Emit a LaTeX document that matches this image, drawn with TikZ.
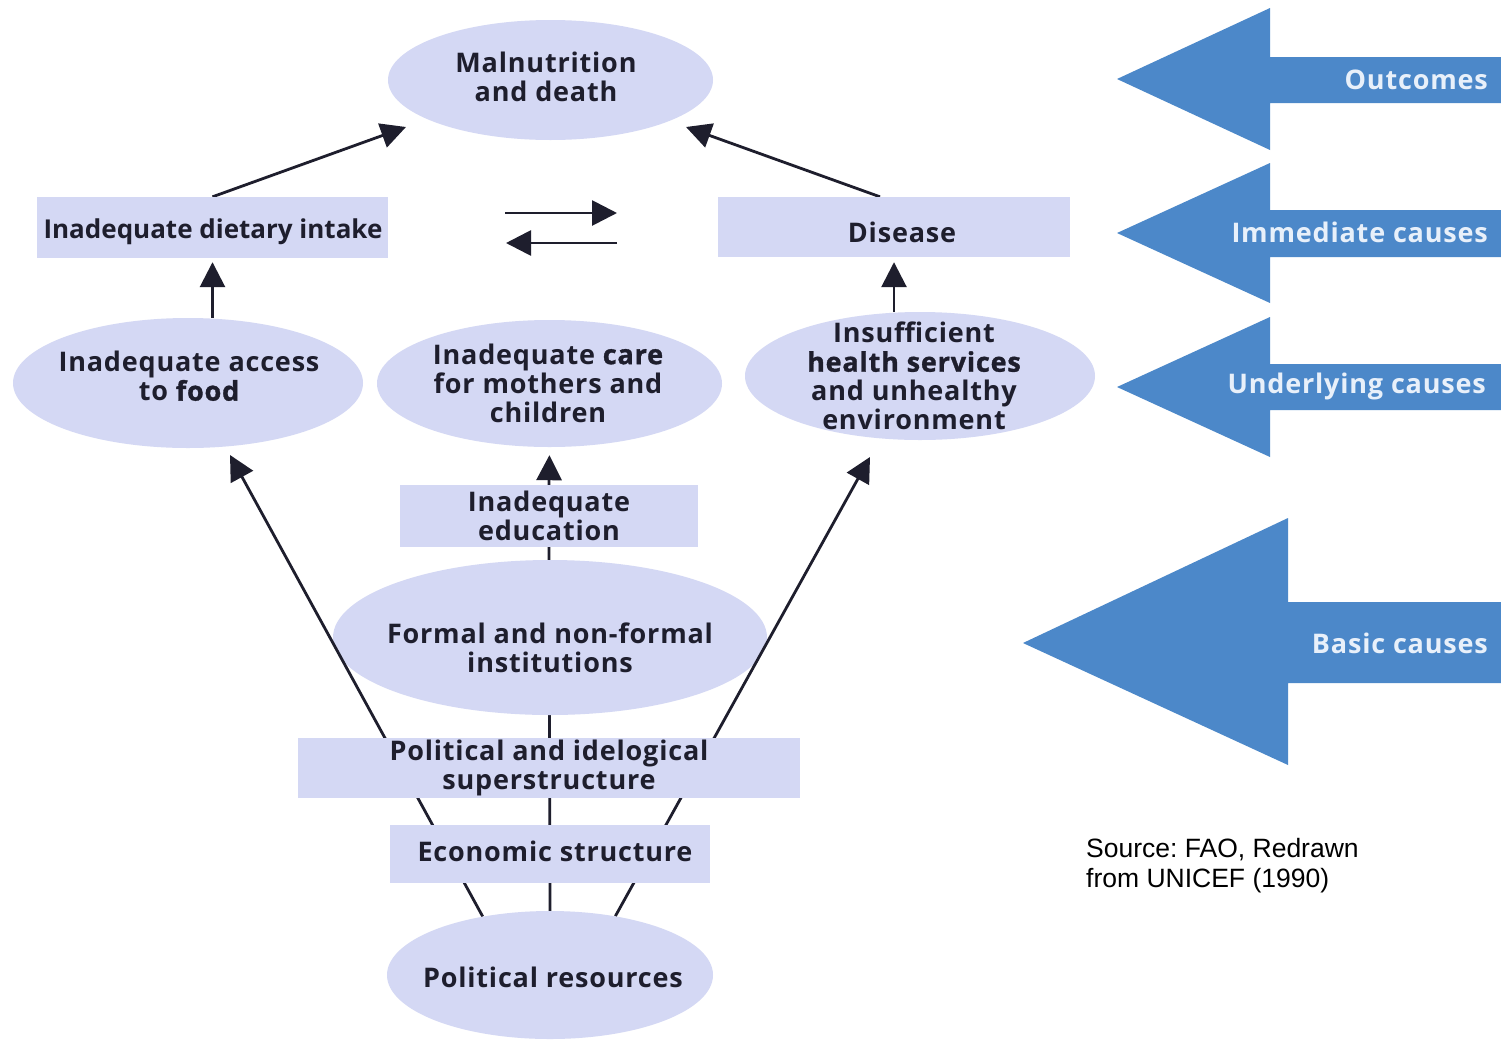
\documentclass[tikz,border=0pt]{standalone}
\usepackage{fontspec}
\usetikzlibrary{shapes.geometric,arrows.meta,calc}
\setmainfont{Open Sans}[LetterSpace=3]
\IfFontExistsTF{Open Sans SemiBold}{%
  \newfontfamily\semi{Open Sans SemiBold}[LetterSpace=3]%
  \newfontfamily\semitight{Open Sans SemiBold}%
  \newfontfamily\heavy{Open Sans}[UprightFont={* Bold},LetterSpace=3]}{%
  \newfontfamily\semi{Open Sans}[UprightFont={* Bold},LetterSpace=3]%
  \newfontfamily\semitight{Open Sans}[UprightFont={* Bold}]%
  \newfontfamily\heavy{Open Sans}[UprightFont={* Bold},LetterSpace=3,FakeBold=1.2]}
\newfontfamily\srcfam{Liberation Sans}
\newcommand\nodefont{\semi\fontsize{27}{29}\selectfont}
\newcommand\dietfont{\semitight\fontsize{26}{29}\selectfont}
\newcommand\emw[1]{{\heavy #1}}
\definecolor{lav}{RGB}{212,216,244}
\definecolor{blu}{RGB}{76,136,201}
\definecolor{ink}{RGB}{30,30,45}
\definecolor{btx}{RGB}{232,240,250}
\pgfdeclarelayer{back}
\pgfdeclarelayer{bga}
\pgfdeclarelayer{bgb}
\pgfsetlayers{back,bga,bgb,main}
\frenchspacing
\begin{document}
\begin{tikzpicture}[x=1pt,y=-1pt,
  box/.style={rectangle, fill=lav, inner sep=0pt, align=center, text=ink, font=\nodefont},
  oval/.style={ellipse, fill=lav, inner sep=0pt},
  txt/.style={align=center, text=ink, font=\nodefont, inner sep=0pt},
  arr/.style={line width=2.8pt, draw=ink, -{Triangle[length=25pt,width=25pt]}},
  ln/.style={line width=2.8pt, draw=ink},
  bigarr/.style={fill=blu},
  btxt/.style={text=btx, font=\nodefont, anchor=east, inner sep=0pt},
  srct/.style={font=\srcfam\fontsize{26.5}{30}\selectfont, align=left, anchor=base west, inner sep=0pt, text=black}]
\begin{pgfonlayer}{back}
\fill[white] (0,0) rectangle (1501,1039);
\end{pgfonlayer}
\useasboundingbox (0,0) rectangle (1501,1039);

% nodes
\node[oval, minimum width=325pt, minimum height=120pt] (mal) at (550.5,80) {};
\node[txt] (malt) at (546,77) {Malnutrition\\and death};
\node[box, minimum width=351pt, minimum height=61pt] (diet) at (212.5,227.5) {};
\node[txt, font=\dietfont] (dietxt) at (213,232) {Inadequate dietary intake};
\node[box, minimum width=352pt, minimum height=60pt] (dis) at (894,227) {};
\node[txt] (distxt) at (902,232) {Disease};
\node[oval, minimum width=350pt, minimum height=130pt] (access) at (188,383) {};
\node[txt] (accesst) at (189,376) {Inadequate access\\to \emw{food}};
\node[oval, minimum width=345pt, minimum height=127pt] (care) at (549.5,383.5) {};
\node[txt] (caret) at (548,383) {Inadequate \emw{care}\\for mothers and\\children};
\node[oval, minimum width=350pt, minimum height=128pt] (health) at (920,376) {};
\node[txt] (healtht) at (914,376) {Insufficient\\\emw{health services}\\and unhealthy\\environment};
\node[box, minimum width=298pt, minimum height=62pt] (edu) at (549,516) {Inadequate\\education};
\begin{pgfonlayer}{bga}
\node[oval, minimum width=434pt, minimum height=155pt] (formal) at (550,637.5) {};
\end{pgfonlayer}
\node[txt] (formalt) at (550,647.5) {Formal and non-formal\\institutions};
\node[box, minimum width=502pt, minimum height=60pt] (polit) at (549,768) {Political and idelogical\\superstructure};
\node[box, minimum width=320pt, minimum height=58pt] (econ) at (550,854) {};
\node[txt] (econt) at (555,851) {Economic structure};
\node[oval, minimum width=326pt, minimum height=128pt] (res) at (550,975) {};
\node[txt] (rest) at (553,977) {Political resources};

% free ends
\coordinate (mtl) at (406,127);
\coordinate (mtr) at (686,127);
\coordinate (da1) at (505,213);
\coordinate (da2) at (617,213);
\coordinate (db1) at (617,243);
\coordinate (db2) at (506,243);
\coordinate (tipL) at (230,455);
\coordinate (tipR) at (870,457);

\begin{pgfonlayer}{back}
\draw[ln] (res.north) -- (edu.south);
\end{pgfonlayer}
\begin{pgfonlayer}{bgb}
\draw[arr] (res.139) -- (tipL);
\draw[arr] (res.42) -- (tipR);
\draw[arr, shorten >=8pt] (edu.north) -- (care.south);
\draw[arr, shorten >=4pt] (access.north -| diet.south) -- (diet.south);
\draw[arr, shorten >=5pt] (health.north -| dis.south) -- (dis.south);
\draw[arr] (diet.north) -- (mtl);
\draw[arr] ($(dis.north)+(-14,0)$) -- (mtr);
\draw[arr] (da1) -- (da2);
\draw[arr] (db1) -- (db2);
\end{pgfonlayer}

% level arrows
\fill[bigarr] (1117,79) -- (1270,8) -- (1270,57) -- (1501,57) -- (1501,103) -- (1270,103) -- (1270,150) -- cycle;
\node[btxt] (outc) at (1488,80) {Outcomes};
\fill[bigarr] (1117,233) -- (1270,163) -- (1270,210) -- (1501,210) -- (1501,257) -- (1270,257) -- (1270,303) -- cycle;
\node[btxt] (imm) at (1488,232) {Immediate causes};
\fill[bigarr] (1117,387) -- (1270,317) -- (1270,364) -- (1501,364) -- (1501,410) -- (1270,410) -- (1270,457) -- cycle;
\node[btxt] (und) at (1486,386) {Underlying causes};
\fill[bigarr] (1023,643) -- (1288,518) -- (1288,602) -- (1501,602) -- (1501,683) -- (1288,683) -- (1288,765) -- cycle;
\node[btxt] (bas) at (1488,643) {Basic causes};

\node[srct] (src) at (1086,887) {Source: FAO, Redrawn\\from UNICEF (1990)};
\end{tikzpicture}
\end{document}
